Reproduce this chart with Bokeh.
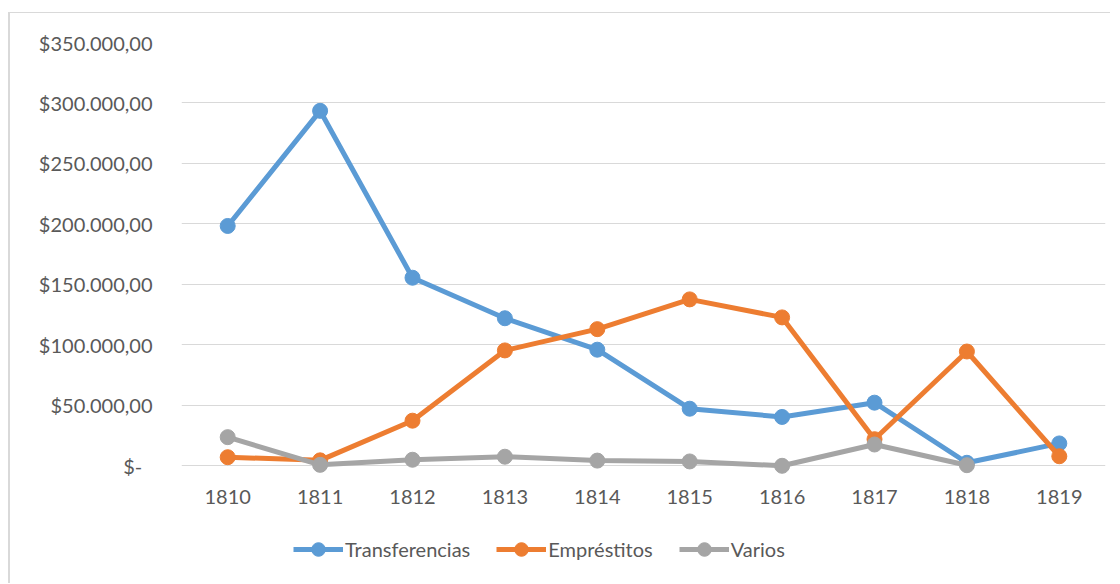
from bokeh.plotting import figure
from bokeh.models import FactorRange, Range1d, FixedTicker, Legend, LegendItem, ColumnDataSource
from bokeh.embed import file_html
from bokeh.resources import INLINE

years = ["1810", "1811", "1812", "1813", "1814", "1815", "1816", "1817", "1818", "1819"]
transferencias = [198300, 293500, 155500, 122000, 96000, 47200, 40400, 52200, 2500, 18500]
emprestitos = [7100, 4500, 37300, 95400, 113000, 137600, 122700, 22000, 94500, 7900]
varios_years = ["1810", "1811", "1812", "1813", "1814", "1815", "1816", "1817", "1818"]
varios = [23700, 800, 5000, 7500, 4300, 3600, 0, 17600, 500]

y_ticks = [0, 50000, 100000, 150000, 200000, 250000, 300000, 350000]
y_labels = ["$-\u00a0\u00a0", "$50.000,00", "$100.000,00", "$150.000,00", "$200.000,00",
            "$250.000,00", "$300.000,00", "$350.000,00"]

FONT = "Lato"
TXT = "#595959"

# frame extends below zero to leave room for the legend inside it
p = figure(x_range=FactorRange(*years), y_range=Range1d(-94840, 350000),
           width=1102, height=571, output_backend="svg", toolbar_location=None,
           min_border_left=171, min_border_right=7, min_border_top=29, min_border_bottom=4)
p.styles = {"margin-left": "8px", "margin-top": "12px",
            "border-left": "2px solid #D9D9D9", "border-top": "1px solid #D9D9D9"}
p.outline_line_color = None
p.xgrid.grid_line_color = None
p.ygrid.grid_line_color = "#D9D9D9"
p.ygrid.grid_line_width = 1.2

p.yaxis.ticker = FixedTicker(ticks=y_ticks)
p.yaxis.major_label_overrides = {t: l for t, l in zip(y_ticks, y_labels)}
p.xaxis.fixed_location = 0
for ax in (p.xaxis[0], p.yaxis[0]):
    ax.axis_line_color = None
    ax.major_tick_line_color = None
    ax.minor_tick_line_color = None
    ax.major_tick_out = 0
    ax.major_tick_in = 0
    ax.major_label_text_font = FONT
    ax.major_label_text_font_size = "20px"
    ax.major_label_text_color = TXT
p.yaxis.major_label_standoff = 29
p.xaxis.major_label_standoff = 24

series = [
    ("Transferencias", years, transferencias, "#5B9BD5"),
    ("Empréstitos", years, emprestitos, "#ED7D31"),
    ("Varios", varios_years, varios, "#A5A5A5"),
]
items = []
for name, xs, ys, col in series:
    src = ColumnDataSource(dict(x=xs, y=ys))
    l = p.line("x", "y", source=src, line_color=col, line_width=5, line_join="round")
    s = p.scatter("x", "y", source=src, size=15, fill_color=col, line_color=col)
    items.append(LegendItem(label=name, renderers=[l, s]))

legend = Legend(items=items, orientation="horizontal", location=(112, 14),
                glyph_width=50, glyph_height=34, label_standoff=2, spacing=26,
                padding=0, margin=0, border_line_color=None, background_fill_alpha=0,
                label_text_font=FONT, label_text_font_size="20px", label_text_color=TXT)
p.add_layout(legend, "center")

open("out.html", "w").write(file_html(p, INLINE))
